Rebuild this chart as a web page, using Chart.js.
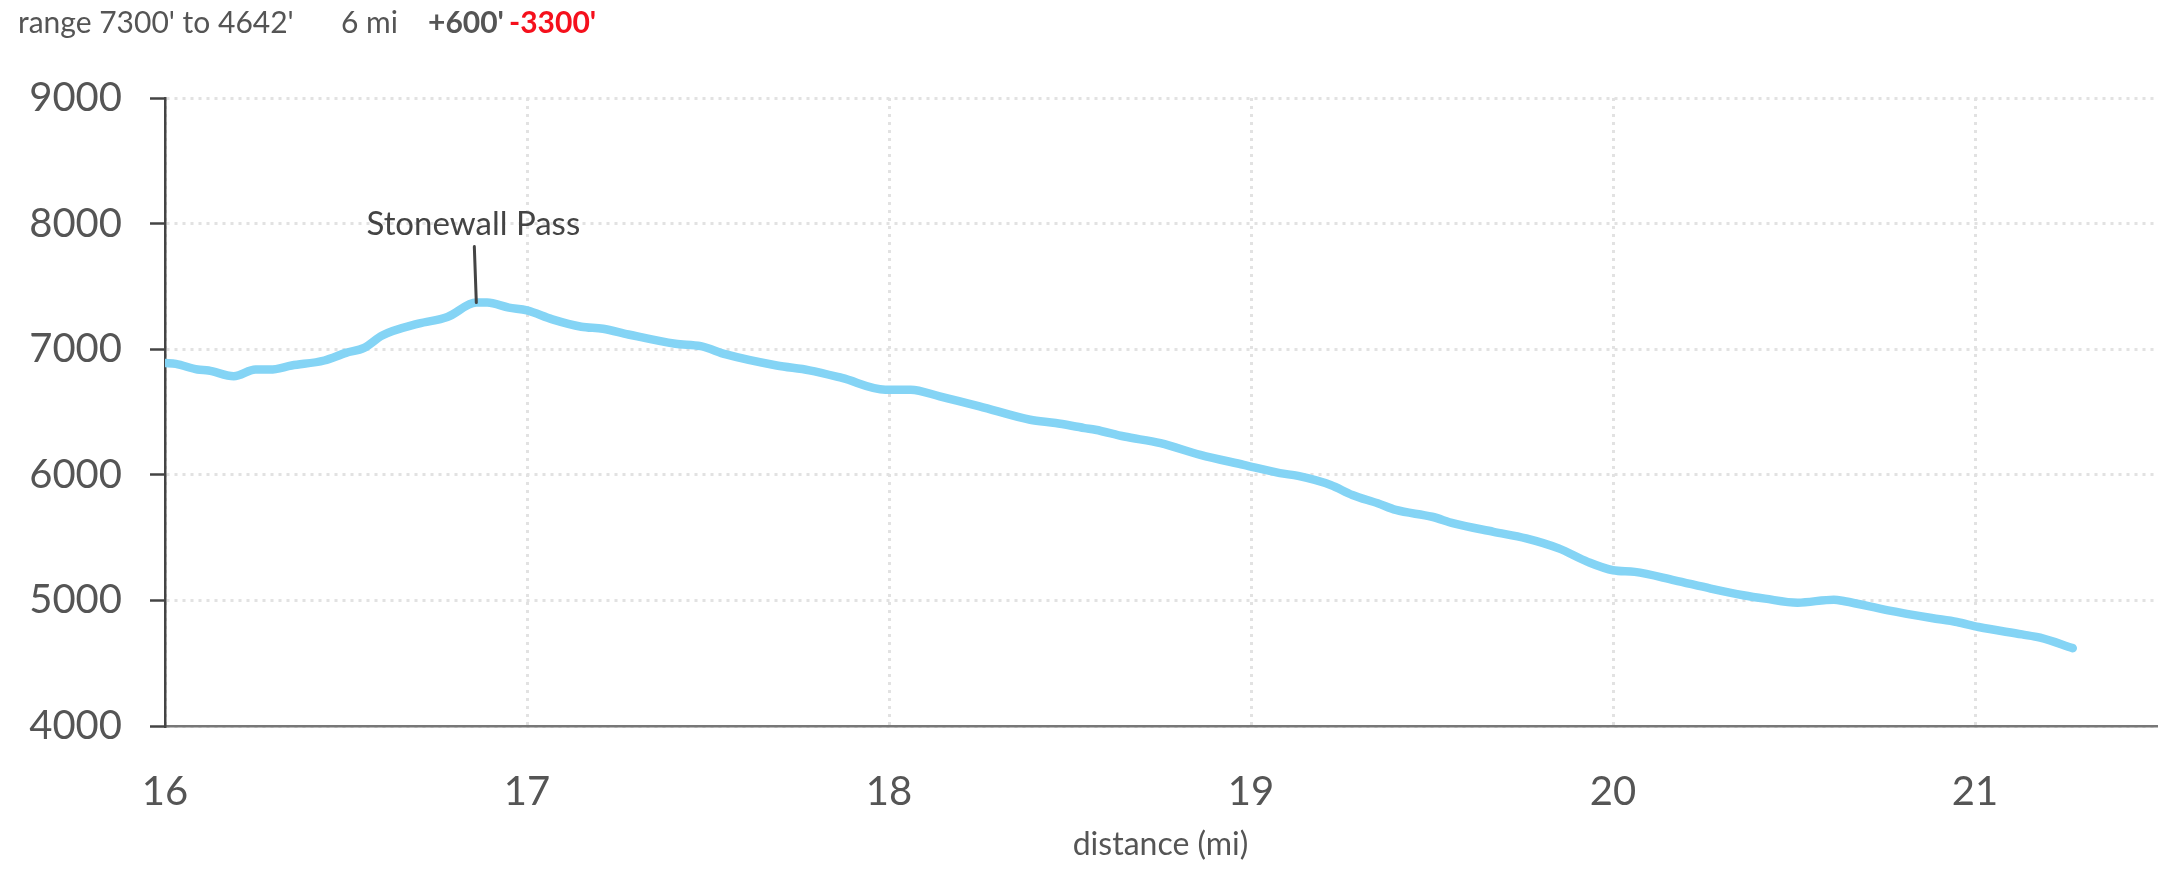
<!DOCTYPE html>
<html>
<head>
<meta charset="utf-8">
<script src="https://cdn.jsdelivr.net/npm/chart.js@4.4.0/dist/chart.umd.min.js"></script>
<style>
  body { margin: 0; background: #fff; font-family: Lato, "Open Sans", sans-serif; }
  #wrap { position: relative; width: 2178px; height: 870px; }
  #stats { position: absolute; left: 18px; top: 6px; font-size: 30px; line-height: 1; color: #555; white-space: nowrap; }
  #stats span { position: absolute; top: 0; }
  #stats b { font-weight: 700; }
  #stats .down { color: #f5101c; }
</style>
</head>
<body>
<div id="wrap">
  <canvas id="profile"></canvas>
  <div id="stats"></div>
</div>
<script>
// distance along trail (mi) and elevation (ft)
const distances = [
  16.00, 16.03, 16.09, 16.12, 16.19, 16.25, 16.29, 16.35, 16.44, 16.50,
  16.55, 16.60, 16.70, 16.78, 16.86, 16.89, 16.95, 17.00, 17.07, 17.15,
  17.21, 17.28, 17.41, 17.48, 17.55, 17.69, 17.78, 17.87, 17.99, 18.06,
  18.14, 18.25, 18.39, 18.46, 18.54, 18.57, 18.65, 18.75, 18.86, 18.98,
  19.08, 19.13, 19.22, 19.28, 19.35, 19.40, 19.50, 19.56, 19.67, 19.76,
  19.85, 19.93, 20.00, 20.06, 20.17, 20.27, 20.36, 20.42, 20.51, 20.61,
  20.64, 20.76, 20.88, 20.95, 21.01, 21.13, 21.18, 21.27
];
const elevations = [
  6891, 6883, 6838, 6830, 6785, 6838, 6838, 6870, 6910, 6971,
  7011, 7109, 7203, 7256, 7371, 7371, 7331, 7309, 7237, 7179,
  7163, 7117, 7043, 7024, 6958, 6870, 6832, 6771, 6678, 6678,
  6625, 6545, 6438, 6412, 6372, 6359, 6305, 6252, 6159, 6079,
  6013, 5991, 5919, 5839, 5773, 5720, 5666, 5613, 5546, 5494,
  5414, 5307, 5240, 5227, 5160, 5094, 5041, 5014, 4982, 5006,
  4993, 4921, 4860, 4828, 4788, 4729, 4703, 4620
];

const xTicks = [16, 17, 18, 19, 20, 21];
const yTicks = [4000, 5000, 6000, 7000, 8000, 9000];

// named points on the route
const landmarkNames = ['Stonewall Pass'];
const landmarkDistances = [16.86];

// summary line above the chart
const rangeText = "range 7300' to 4642'";
const lengthText = '6 mi';
const gainText = "+600'";
const lossText = "-3300'";

const stats = document.getElementById('stats');
stats.innerHTML =
  '<span style="left:0">' + rangeText + '</span>' +
  '<span style="left:323px">' + lengthText + '</span>' +
  '<span style="left:410px"><b>' + gainText + '</b></span>' +
  '<span style="left:491px"><b class="down">' + lossText + '</b></span>';

Chart.defaults.font.family = 'Lato, "Open Sans", sans-serif';
Chart.defaults.color = '#555';

const landmarkPlugin = {
  id: 'landmarks',
  afterDatasetsDraw(chart) {
    const { ctx, scales } = chart;
    ctx.save();
    landmarkNames.forEach((name, i) => {
      const d = landmarkDistances[i];
      const idx = distances.indexOf(d);
      const px = scales.x.getPixelForValue(d);
      const py = scales.y.getPixelForValue(elevations[idx]);
      ctx.strokeStyle = '#444';
      ctx.lineWidth = 3;
      ctx.lineCap = 'round';
      ctx.beginPath();
      ctx.moveTo(px, py);
      ctx.lineTo(px - 2, py - 56);
      ctx.stroke();
      ctx.fillStyle = '#444';
      ctx.font = '33px Lato, "Open Sans", sans-serif';
      ctx.textAlign = 'center';
      ctx.textBaseline = 'alphabetic';
      ctx.fillText(name, px - 3, py - 68);
    });
    ctx.restore();
  }
};

new Chart(document.getElementById('profile'), {
  type: 'line',
  data: {
    datasets: [{
      data: distances.map((d, i) => ({ x: d, y: elevations[i] })),
      borderColor: '#84d4f5',
      borderWidth: 8.5,
      borderCapStyle: 'round',
      borderJoinStyle: 'round',
      cubicInterpolationMode: 'monotone',
      pointRadius: 0,
      fill: false
    }]
  },
  options: {
    responsive: true,
    maintainAspectRatio: false,
    animation: false,
    layout: { padding: { top: 98, right: 22, bottom: 0, left: 0 } },
    plugins: {
      legend: { display: false },
      tooltip: { enabled: false }
    },
    scales: {
      x: {
        type: 'linear',
        min: 16,
        max: 21.5,
        afterBuildTicks: (scale) => { scale.ticks = xTicks.map(v => ({ value: v })); },
        afterFit: (scale) => { scale.height = 144; },
        border: { color: '#777', width: 2.5, dash: [3, 5] },
        grid: {
          color: '#e2e2e2',
          lineWidth: 3,
          drawTicks: false
        },
        ticks: {
          padding: 42,
          font: { size: 40 },
          color: '#555',
          callback: (v) => String(v)
        },
        title: {
          display: true,
          text: 'distance (mi)',
          color: '#555',
          font: { size: 32 },
          padding: { top: 0, bottom: 6 }
        }
      },
      y: {
        min: 4000,
        max: 9000,
        afterBuildTicks: (scale) => { scale.ticks = yTicks.map(v => ({ value: v })); },
        afterFit: (scale) => { scale.width = 165; },
        border: { color: '#444', width: 2.5, dash: [3, 5] },
        grid: {
          color: '#e2e2e2',
          lineWidth: 3,
          tickColor: '#444',
          tickWidth: 2.5,
          tickBorderDash: [],
          tickLength: 15
        },
        ticks: {
          padding: 28,
          font: { size: 40 },
          color: '#555',
          callback: (v) => String(v)
        }
      }
    }
  },
  plugins: [landmarkPlugin]
});
</script>
</body>
</html>
